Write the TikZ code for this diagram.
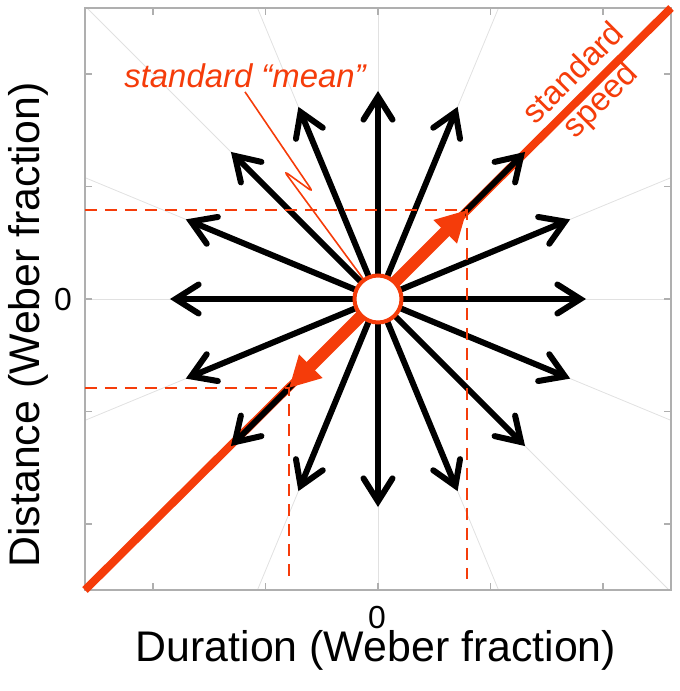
\documentclass[tikz,border=0pt]{standalone}
\usepackage{fontspec}
\setmainfont{Liberation Sans}
\usetikzlibrary{arrows.meta}
\definecolor{speedred}{RGB}{245,60,10}
\definecolor{boxgray}{RGB}{175,175,175}
\definecolor{raygray}{RGB}{225,225,225}

\begin{document}
\begin{tikzpicture}[
  x=1bp,y=1bp,
  boxline/.style={boxgray,line width=1.3bp},
  ray/.style={raygray,line width=0.8bp},
  vec/.style={black,line width=6bp,-{Straight Barb[length=23bp,width=29bp,line cap=round]}},
  stdvec/.style={speedred,line width=12bp,-{Triangle[length=31bp,width=31bp]}},
  guide/.style={speedred,line width=2.5bp,dash pattern=on 12bp off 8bp},
  lbl/.style={font=\fontsize{43}{50}\selectfont},
  ticklbl/.style={font=\fontsize{32}{38}\selectfont},
  redlbl/.style={speedred,font=\fontsize{33}{38}\selectfont},
  meanlbl/.style={redlbl,font=\fontsize{33}{40}\selectfont\itshape}
]
\useasboundingbox (-378,-392) rectangle (302,299);

% faint rays
\begin{scope}
  \clip (-293,-291) rectangle (293,291);
  \foreach \a in {0,22.5,...,337.5}
    \draw[ray] (0,0) -- (\a:500);
\end{scope}

% frame with ticks
\draw[boxline] (-293,-291) rectangle (293,291);
\foreach \t in {-225,-112.5,0,112.5,225} {
  \draw[boxline] (\t,-291) -- ++(0,7);
  \draw[boxline] (\t,291) -- ++(0,-7);
  \draw[boxline] (-293,\t) -- ++(7,0);
  \draw[boxline] (293,\t) -- ++(-7,0);
}

% standard speed line
\coordinate (bl) at (-293,-291);
\coordinate (tr) at (293,291);
\draw[speedred,line width=8bp] (bl) -- (tr);

% test directions
\coordinate (o) at (0,0);
\foreach \a in {0,22.5,...,337.5}
  \draw[vec] (o) -- (\a:208);

% standard stimulus
\coordinate (hi) at (45:126);
\coordinate (lo) at (225:126);
\coordinate (floor) at (0,-280);
\draw[stdvec] (o) -- (hi);
\draw[stdvec] (o) -- (lo);
\draw[guide] (hi -| bl) -- (hi) -- (hi |- floor);
\draw[guide] (lo -| bl) -- (lo) -- (lo |- floor);

% mean label and leader
\node[meanlbl,anchor=base] (mean) at (-133,211) {standard “mean”};
\coordinate (k1) at (-65,107);
\coordinate (k2) at (-94,128);
\draw[speedred,line width=1.6bp,rounded corners=5bp] (mean.south) -- (k1) -- (k2) -- (o);

\node[circle,draw=speedred,fill=white,line width=4bp,minimum size=47bp,inner sep=0] (std) at (o) {};

\node[redlbl,rotate=45,align=center,inner sep=0] (stdlbl) at (210,211) {standard\\speed};

% axes labels
\node[ticklbl] (x0) at (-1,-319) {0};
\node[ticklbl] (y0) at (-315,-1) {0};
\node[lbl,anchor=base] (xlbl) at (-2,-362) {Duration (Weber fraction)};
\node[lbl,rotate=90,anchor=base] (ylbl) at (-338,-26) {Distance (Weber fraction)};

\end{tikzpicture}
\end{document}
